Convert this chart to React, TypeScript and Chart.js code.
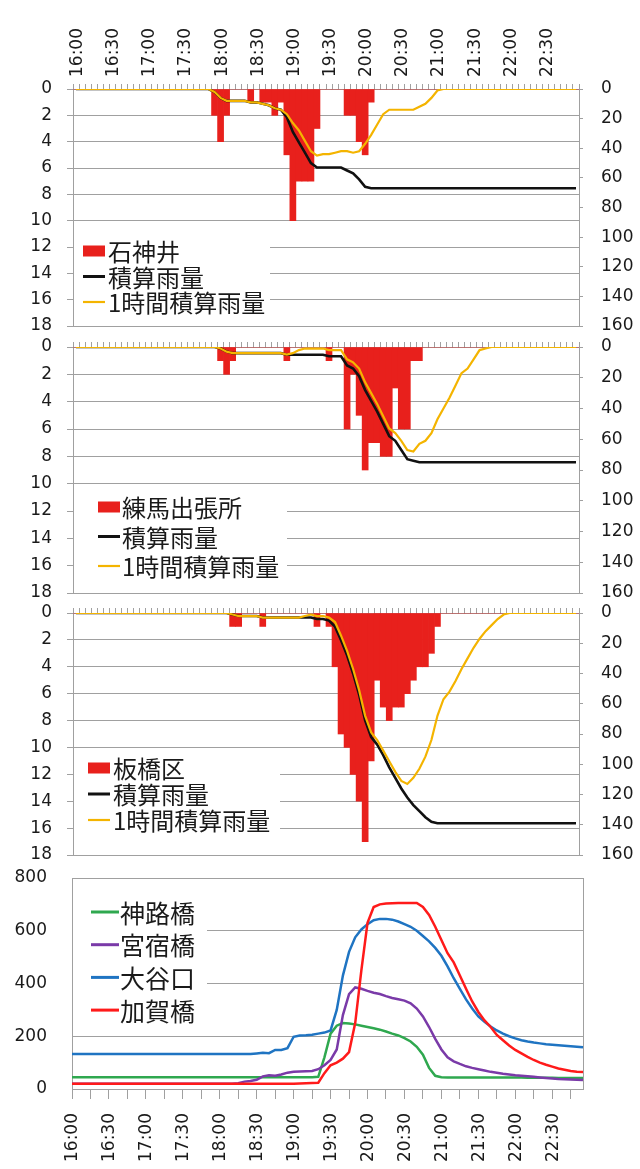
import React, { useEffect, useRef } from 'react';
import { Chart, registerables } from 'chart.js';
Chart.register(...registerables);

// ---- categories (5-minute steps) ----
const TIMES = [
  '16:00','16:05','16:10','16:15','16:20','16:25','16:30','16:35','16:40','16:45','16:50','16:55',
  '17:00','17:05','17:10','17:15','17:20','17:25','17:30','17:35','17:40','17:45','17:50','17:55',
  '18:00','18:05','18:10','18:15','18:20','18:25','18:30','18:35','18:40','18:45','18:50','18:55',
  '19:00','19:05','19:10','19:15','19:20','19:25','19:30','19:35','19:40','19:45','19:50','19:55',
  '20:00','20:05','20:10','20:15','20:20','20:25','20:30','20:35','20:40','20:45','20:50','20:55',
  '21:00','21:05','21:10','21:15','21:20','21:25','21:30','21:35','21:40','21:45','21:50','21:55',
  '22:00','22:05','22:10','22:15','22:20','22:25','22:30','22:35','22:40','22:45','22:50','22:55',
];

// ---- 石神井 ----
const SHAKUJII_RAIN = [
  0,0,0,0,0,0,0,0,0,0,0,0,
  0,0,0,0,0,0,0,0,0,0,0,2,
  4,2,0,0,0,1,0,1,1,2,1,5,
  10,7,7,7,3,0,0,0,0,2,2,4,
  5,1,0,0,0,0,0,0,0,0,0,0,
  0,0,0,0,0,0,0,0,0,0,0,0,
  0,0,0,0,0,0,0,0,0,0,0,0,
];
const SHAKUJII_CUM = [
  0,0,0,0,0,0,0,0,0,0,0,0,
  0,0,0,0,0,0,0,0,0,0,0,2,
  6,8,8,8,8,9,9,10,11,13,14,19,
  29,36,43,50,53,53,53,53,53,55,57,61,
  66,67,67,67,67,67,67,67,67,67,67,67,
  67,67,67,67,67,67,67,67,67,67,67,67,
  67,67,67,67,67,67,67,67,67,67,67,67,
];
const SHAKUJII_HOUR = [
  0,0,0,0,0,0,0,0,0,0,0,0,
  0,0,0,0,0,0,0,0,0,0,0,2,
  6,8,8,8,8,9,9,10,11,13,14,17,
  23,28,35,42,45,44,44,43,42,42,43,42,
  37,31,24,17,14,14,14,14,14,12,10,6,
  1,0,0,0,0,0,0,0,0,0,0,0,
  0,0,0,0,0,0,0,0,0,0,0,0,
];

// ---- 練馬出張所 ----
const NERIMA_RAIN = [
  0,0,0,0,0,0,0,0,0,0,0,0,
  0,0,0,0,0,0,0,0,0,0,0,0,
  1,2,1,0,0,0,0,0,0,0,0,1,
  0,0,0,0,0,0,1,0,0,6,2,5,
  9,7,7,8,8,3,6,6,1,1,0,0,
  0,0,0,0,0,0,0,0,0,0,0,0,
  0,0,0,0,0,0,0,0,0,0,0,0,
];
const NERIMA_CUM = [
  0,0,0,0,0,0,0,0,0,0,0,0,
  0,0,0,0,0,0,0,0,0,0,0,0,
  1,3,4,4,4,4,4,4,4,4,4,5,
  5,5,5,5,5,5,6,6,6,12,14,19,
  28,35,42,50,58,61,67,73,74,75,75,75,
  75,75,75,75,75,75,75,75,75,75,75,75,
  75,75,75,75,75,75,75,75,75,75,75,75,
];
const NERIMA_HOUR = [
  0,0,0,0,0,0,0,0,0,0,0,0,
  0,0,0,0,0,0,0,0,0,0,0,0,
  1,3,4,4,4,4,4,4,4,4,4,5,
  4,2,1,1,1,1,2,2,2,8,10,14,
  23,30,37,45,53,56,61,67,68,63,61,56,
  47,40,33,25,17,14,8,2,1,0,0,0,
  0,0,0,0,0,0,0,0,0,0,0,0,
];

// ---- 板橋区 ----
const ITABASHI_RAIN = [
  0,0,0,0,0,0,0,0,0,0,0,0,
  0,0,0,0,0,0,0,0,0,0,0,0,
  0,0,1,1,0,0,0,1,0,0,0,0,
  0,0,0,0,1,0,1,4,9,10,12,14,
  17,11,5,7,8,7,7,6,5,4,4,3,
  1,0,0,0,0,0,0,0,0,0,0,0,
  0,0,0,0,0,0,0,0,0,0,0,0,
];
const ITABASHI_CUM = [
  0,0,0,0,0,0,0,0,0,0,0,0,
  0,0,0,0,0,0,0,0,0,0,0,0,
  0,0,1,2,2,2,2,3,3,3,3,3,
  3,3,3,3,4,4,5,9,18,28,40,54,
  71,82,87,94,102,109,116,122,127,131,135,138,
  139,139,139,139,139,139,139,139,139,139,139,139,
  139,139,139,139,139,139,139,139,139,139,139,139,
];
const ITABASHI_HOUR = [
  0,0,0,0,0,0,0,0,0,0,0,0,
  0,0,0,0,0,0,0,0,0,0,0,0,
  0,0,1,2,2,2,2,3,3,3,3,3,
  3,3,2,1,2,2,3,6,15,25,37,51,
  68,79,84,91,98,105,111,113,109,103,95,84,
  68,57,52,45,37,30,23,17,12,8,4,1,
  0,0,0,0,0,0,0,0,0,0,0,0,
];

// ---- water levels ----
const KAMIJI = [
  45,45,45,45,45,45,45,45,45,45,45,45,
  45,45,45,45,45,45,45,45,45,45,45,45,
  45,45,45,45,45,45,45,45,45,45,45,45,
  45,45,45,45,46,120,210,240,250,248,245,240,
  235,230,225,218,210,203,193,180,160,130,80,50,
  45,44,44,44,44,44,44,44,44,44,44,44,
  44,44,43,43,43,43,43,42,42,42,42,42,
];
const MIYAJUKU = [
  20,20,20,20,20,20,20,20,20,20,20,20,
  20,20,20,20,20,20,20,20,20,20,20,20,
  20,20,20,22,28,30,35,48,52,50,55,62,
  65,66,67,68,75,90,110,150,280,360,385,380,
  372,365,360,352,345,340,335,325,305,275,235,190,
  150,120,105,95,86,80,75,70,65,62,58,55,
  52,50,48,46,44,42,40,38,37,36,35,34,
];
const OOYAGUCHI = [
  133,133,133,133,133,133,133,133,133,133,133,133,
  133,133,133,133,133,133,133,133,133,133,133,133,
  133,133,133,133,133,133,135,137,136,148,148,155,
  198,203,204,206,210,214,222,300,430,520,575,605,
  625,640,645,645,642,635,625,615,600,580,560,535,
  505,465,420,380,340,305,275,255,237,222,210,200,
  192,185,180,176,173,170,168,166,164,162,160,158,
];
const KAGA = [
  20,20,20,20,20,20,20,20,20,20,20,20,
  20,20,20,20,20,20,20,20,20,20,20,20,
  20,20,20,20,20,20,20,20,20,20,20,20,
  20,21,22,23,24,60,90,100,115,140,250,450,
  630,690,700,703,704,705,705,705,705,690,660,615,
  565,515,480,430,380,332,292,260,235,205,185,165,
  148,135,122,110,100,92,85,78,73,68,65,64,
];

const RAIN_TICKS_LEFT = [0, 18, 2];
const RAIN_TICKS_RIGHT = [0, 160, 20];
const LEVEL_TICKS = [0, 800, 200];

const FONT = 'DejaVu Sans';
const CJK = '"Noto Sans CJK JP"';
const GRID = '#a0a0a0';
const TXT = '#1a1a1a';
const BAR_RED = '#e8201c';
const ORANGE = '#f4b400';

const boxLegend = {
  id: 'boxLegend',
  afterDraw(chart: any, _a: any, o: any) {
    if (!o || !o.items) return;
    const ctx = chart.ctx;
    ctx.save();
    ctx.fillStyle = '#ffffff';
    ctx.fillRect(o.box[0], o.box[1], o.box[2], o.box[3]);
    ctx.font = `${o.fontSize}px ${CJK}`;
    ctx.textBaseline = 'middle';
    ctx.textAlign = 'left';
    o.items.forEach((it: any, k: number) => {
      const y = o.y0 + k * o.dy;
      if (it.kind === 'box') {
        ctx.fillStyle = it.color;
        ctx.fillRect(o.sx0, y - 5.5, o.sx1 - o.sx0, 11);
      } else {
        ctx.strokeStyle = it.color;
        ctx.lineWidth = it.w;
        ctx.beginPath();
        ctx.moveTo(o.sx0, y);
        ctx.lineTo(o.sx1, y);
        ctx.stroke();
      }
      ctx.fillStyle = TXT;
      ctx.fillText(it.text, o.tx, y + 1);
    });
    ctx.restore();
  },
};

const frame = {
  id: 'frame',
  beforeDatasetsDraw(chart: any, _a: any, o: any) {
    if (!o || !o.on) return;
    const { left, right, top, bottom } = chart.chartArea;
    const ctx = chart.ctx;
    ctx.save();
    ctx.strokeStyle = GRID;
    ctx.lineWidth = 1;
    ctx.strokeRect(left + 0.5, top + 0.5, right - left, bottom - top);
    ctx.restore();
  },
};

function rainConfig(p: any) {
  const tickFont = { family: FONT, size: 17 };
  return {
    type: 'bar',
    data: {
      labels: TIMES,
      datasets: [
        { type: 'bar', label: p.name, data: p.rain, backgroundColor: BAR_RED, borderWidth: 0,
          barPercentage: 1, categoryPercentage: 1, yAxisID: 'y', order: 3 },
        { type: 'line', label: '積算雨量', data: p.cum, borderColor: '#111111', borderWidth: 2.6,
          pointRadius: 0, yAxisID: 'y1', order: 2 },
        { type: 'line', label: '1時間積算雨量', data: p.hour, borderColor: ORANGE, borderWidth: 2.2,
          pointRadius: 0, yAxisID: 'y1', order: 1 },
      ],
    },
    plugins: [boxLegend],
    options: {
      responsive: false,
      animation: false,
      layout: { padding: { top: 0, left: 0, right: 0, bottom: p.canvasH - (p.plotBottom - p.canvasTop) } },
      plugins: {
        legend: { display: false },
        tooltip: { enabled: false },
        boxLegend: p.legend,
      },
      scales: {
        x: {
          type: 'category',
          position: 'top',
          offset: true,
          grid: { offset: true, drawOnChartArea: false, drawTicks: true, tickLength: 5, color: GRID },
          border: { display: true, color: GRID },
          ticks: {
            autoSkip: false, maxRotation: 90, minRotation: 90, padding: 7, labelOffset: 22,
            font: tickFont, color: TXT,
            callback: (_v: any, i: number) => (p.showLabels && i % 6 === 0 ? TIMES[i] : ''),
          },
          afterFit: (s: any) => { s.height = p.plotTop - p.canvasTop; },
        },
        y: {
          position: 'left',
          reverse: true,
          min: RAIN_TICKS_LEFT[0], max: RAIN_TICKS_LEFT[1],
          ticks: { stepSize: RAIN_TICKS_LEFT[2], padding: 15, font: tickFont, color: TXT },
          grid: { color: GRID, tickLength: 6 },
          border: { display: true, color: GRID },
          afterFit: (s: any) => { s.width = 73; },
        },
        y1: {
          position: 'right',
          reverse: true,
          min: RAIN_TICKS_RIGHT[0], max: RAIN_TICKS_RIGHT[1],
          ticks: { stepSize: RAIN_TICKS_RIGHT[2], padding: 18, font: tickFont, color: TXT },
          grid: { drawOnChartArea: false, color: GRID, tickLength: 4 },
          border: { display: true, color: GRID },
          afterFit: (s: any) => { s.width = 61; },
        },
      },
    },
  };
}

function rainLegend(name: string, canvasTop: number, box: number[], y0: number, dy: number, sx0: number, sx1: number, tx: number) {
  return {
    box: [box[0], box[1] - canvasTop, box[2], box[3]],
    y0: y0 - canvasTop, dy, sx0, sx1, tx, fontSize: 24,
    items: [
      { kind: 'box', color: BAR_RED, text: name },
      { kind: 'line', color: '#111111', w: 3, text: '積算雨量' },
      { kind: 'line', color: ORANGE, w: 2.2, text: '1時間積算雨量' },
    ],
  };
}

// canvases overlap; each keeps >= 30px of room around its plot for Chart.js label padding
const P1 = { canvasTop: 0, canvasH: 356, plotTop: 89, plotBottom: 326 };
const P2 = { canvasTop: 317, canvasH: 306, plotTop: 347, plotBottom: 593 };
const P3 = { canvasTop: 583, canvasH: 302, plotTop: 613, plotBottom: 855 };
const P4 = { canvasTop: 840, canvasH: 329, plotTop: 878, plotBottom: 1089 };

function levelConfig() {
  const tickFont = { family: FONT, size: 17 };
  const mk = (label: string, data: number[], color: string, order: number) => ({
    label, data, borderColor: color, borderWidth: 2.5, pointRadius: 0, order,
  });
  return {
    type: 'line',
    data: {
      labels: TIMES,
      datasets: [
        mk('神路橋', KAMIJI, '#2fa84f', 4),
        mk('宮宿橋', MIYAJUKU, '#7a3aa8', 3),
        mk('大谷口', OOYAGUCHI, '#1f74c2', 2),
        mk('加賀橋', KAGA, '#ff1a1a', 1),
      ],
    },
    plugins: [boxLegend, frame],
    options: {
      responsive: false,
      animation: false,
      layout: { padding: { top: P4.plotTop - P4.canvasTop, left: 0, right: 640 - 583, bottom: 0 } },
      plugins: {
        legend: { display: false },
        tooltip: { enabled: false },
        frame: { on: true },
        boxLegend: {
          box: [73, 893 - P4.canvasTop, 134, 135],
          y0: 912 - P4.canvasTop, dy: 32.7, sx0: 91, sx1: 119, tx: 120, fontSize: 25,
          items: [
            { kind: 'line', color: '#2fa84f', w: 3, text: '神路橋' },
            { kind: 'line', color: '#7a3aa8', w: 3, text: '宮宿橋' },
            { kind: 'line', color: '#1f74c2', w: 3, text: '大谷口' },
            { kind: 'line', color: '#ff1a1a', w: 3, text: '加賀橋' },
          ],
        },
      },
      scales: {
        x: {
          type: 'category',
          position: 'bottom',
          offset: false,
          grid: {
            drawOnChartArea: false, drawTicks: true, tickLength: 10,
            color: (c: any) => (c.index % 3 === 0 ? GRID : 'rgba(0,0,0,0)'),
          },
          border: { display: true, color: GRID },
          ticks: {
            autoSkip: false, maxRotation: 90, minRotation: 90, padding: 14, labelOffset: 1,
            font: tickFont, color: TXT,
            callback: (_v: any, i: number) => (i % 6 === 0 ? TIMES[i] : ''),
          },
          afterFit: (s: any) => { s.height = P4.canvasTop + P4.canvasH - P4.plotBottom; },
        },
        y: {
          min: LEVEL_TICKS[0], max: LEVEL_TICKS[1],
          ticks: { stepSize: LEVEL_TICKS[2], padding: 25, font: tickFont, color: TXT },
          grid: { color: GRID, drawTicks: false },
          border: { display: true, color: GRID },
          afterFit: (s: any) => { s.width = 72; },
        },
      },
    },
  };
}

export default function App() {
  const r1 = useRef<HTMLCanvasElement>(null);
  const r2 = useRef<HTMLCanvasElement>(null);
  const r3 = useRef<HTMLCanvasElement>(null);
  const r4 = useRef<HTMLCanvasElement>(null);

  useEffect(() => {
    const charts: Chart[] = [];
    charts.push(new Chart(r1.current as any, rainConfig({
      ...P1, name: '石神井', rain: SHAKUJII_RAIN, cum: SHAKUJII_CUM, hour: SHAKUJII_HOUR, showLabels: true,
      legend: rainLegend('石神井', P1.canvasTop, [74, 236, 196, 86], 251, 25.5, 83, 105, 108),
    }) as any));
    charts.push(new Chart(r2.current as any, rainConfig({
      ...P2, name: '練馬出張所', rain: NERIMA_RAIN, cum: NERIMA_CUM, hour: NERIMA_HOUR, showLabels: false,
      legend: rainLegend('練馬出張所', P2.canvasTop, [74, 490, 213, 98], 507, 29.5, 98, 120, 122),
    }) as any));
    charts.push(new Chart(r3.current as any, rainConfig({
      ...P3, name: '板橋区', rain: ITABASHI_RAIN, cum: ITABASHI_CUM, hour: ITABASHI_HOUR, showLabels: false,
      legend: rainLegend('板橋区', P3.canvasTop, [74, 752, 206, 96], 768, 26, 88, 110, 113),
    }) as any));
    charts.push(new Chart(r4.current as any, levelConfig() as any));
    return () => charts.forEach((c) => c.destroy());
  }, []);

  const cs = (t: number): React.CSSProperties => ({ position: 'absolute', left: 0, top: t });
  return (
    <div style={{ position: 'absolute', left: 0, top: 0, width: 640, height: 1169, background: '#ffffff', overflow: 'hidden' }}>
      <canvas ref={r1} width={640} height={P1.canvasH} style={cs(P1.canvasTop)} />
      <canvas ref={r2} width={640} height={P2.canvasH} style={cs(P2.canvasTop)} />
      <canvas ref={r3} width={640} height={P3.canvasH} style={cs(P3.canvasTop)} />
      <canvas ref={r4} width={640} height={P4.canvasH} style={cs(P4.canvasTop)} />
    </div>
  );
}
